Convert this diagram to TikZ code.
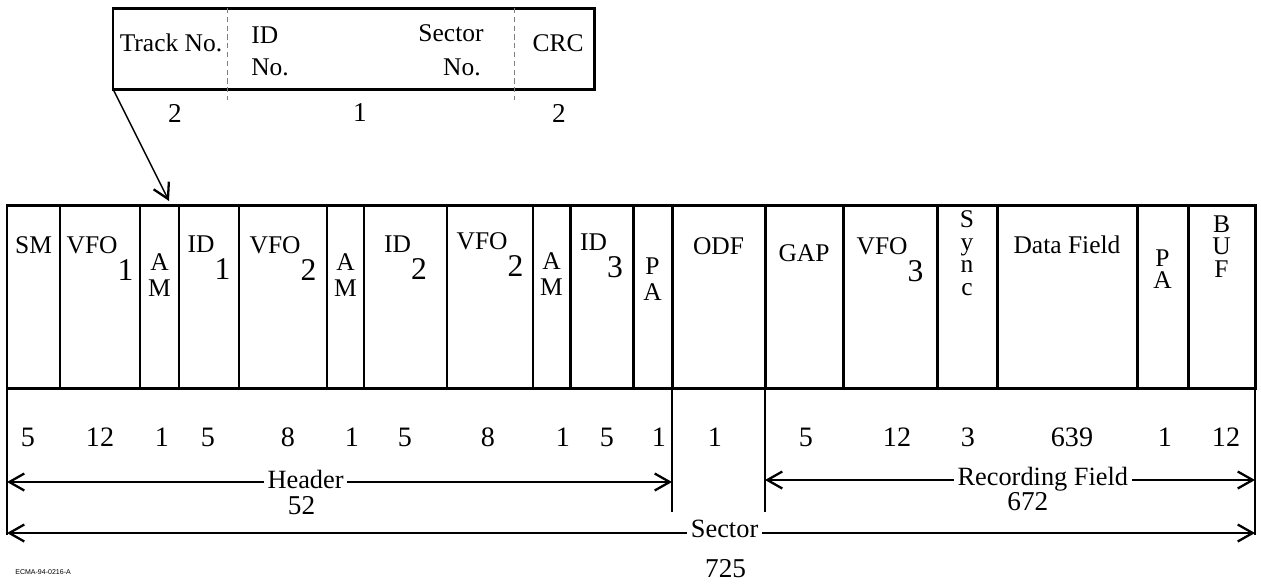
\documentclass[tikz,border=0pt]{standalone}
\usepackage{fontspec}
\setmainfont{Liberation Serif}
\newfontfamily\tagfont{Liberation Sans}
\usetikzlibrary{positioning, arrows.meta, calc, fit}

% big lowered index digit, as in the drawing
\newcommand\sbd[1]{\lower0.54cm\hbox{\fontsize{18}{18}\selectfont #1}}

\begin{document}
\begin{tikzpicture}[x=0.02cm, y=-0.02cm,
  cell/.style={draw, line width=1.7pt, inner sep=0pt, outer sep=0pt},
  lab/.style={anchor=north, inner sep=0pt, align=center, font=\fontsize{14.5}{15}\selectfont},
  num/.style={inner sep=0pt, font=\fontsize{16}{16}\selectfont},
  boxtxt/.style={inner sep=0pt, font=\fontsize{14.5}{15}\selectfont},
  dimtxt/.style={fill=white, inner xsep=2pt, inner ysep=0pt, font=\fontsize{15}{15}\selectfont},
  dimnum/.style={inner sep=0pt, font=\fontsize{15.5}{15.5}\selectfont},
  dimline/.style={line width=0.8pt, {Straight Barb[length=3mm, width=3.4mm, line width=1.3pt]}-{Straight Barb[length=3mm, width=3.4mm, line width=1.3pt]}},
  edge/.style={line width=0.6pt}]
\useasboundingbox (0,0) rectangle (1261,583);

% --- ID field ---
\node[cell, fit={(113,8) (594,89)}] (idbox) {};
\draw[gray, line width=0.4pt, densely dashed] (idbox.north -| 227,0) -- (227,100);
\draw[gray, line width=0.4pt, densely dashed] (idbox.north -| 514,0) -- (514,100);
\node[boxtxt] (trk) at (171,43) {Track No.};
\node[boxtxt, anchor=west] (idw) at (251,35) {ID};
\node[boxtxt, anchor=west] (idn) at (251,67) {No.};
\node[boxtxt] (sec) at (451,33) {Sector};
\node[boxtxt, anchor=east] (secn) at (481,67) {No.};
\node[boxtxt] (crc) at (558,43) {CRC};
\node[dimnum] (trkb) at (175,113) {2};
\node[dimnum] (idb) at (360,113) {1};
\node[dimnum] (crcb) at (559,113) {2};

% --- Sector fields ---
\foreach \nm/\xa/\xb/\ty/\txt/\nv/\nx in {
  sm/7/60/236/SM/5/28,
  vfoa/60/140/236/{VFO\sbd{1}}/12/100,
  ama/140/179/253/{A\\M}/1/162,
  ida/179/239/235/{ID\sbd{1}}/5/208,
  vfob/239/327/236/{VFO\sbd{2}}/8/288,
  amb/327/364/253/{A\\M}/1/352,
  idb/364/447/235/{ID\sbd{2}}/5/405,
  vfoc/447/533/232/{VFO\sbd{2}}/8/488,
  amc/533/570/252/{A\\M}/1/563,
  idc/570/633/233/{ID\sbd{3}}/5/607,
  paa/633/672/257/{P\\A}/1/659,
  odf/672/765/237/ODF/1/715,
  gap/765/843/244/GAP/5/806,
  vfod/843/937/237/{VFO\sbd{3}}/12/897,
  sync/937/997/210/{S\\[-2pt]y\\[-2pt]n\\[-2pt]c}/3/968,
  data/997/1137/235/Data Field/639/1072,
  pab/1137/1188/249/{P\\[-2pt]A}/1/1165,
  buf/1188/1255/215/{B\\[-2pt]U\\[-2pt]F}/12/1226}{
  \node[cell, fit={(\xa,205) (\xb,388)}] (\nm) {};
  \node[lab] (\nm-t) at (\nm.center |- 0,\ty) {\txt};
  \node[num] (\nm-n) at (\nx,437) {\nv};
}

% pointer from ID field
\draw[line width=0.8pt, -{Straight Barb[length=3mm, width=3.4mm, line width=1.3pt]}]
  (idbox.south west) -- ($(ama.north east)+(-10,-4)$);

% --- Lengths ---
\draw[edge] (sm.south west) -- ++(0,147);
\draw[edge] (buf.south east) -- ++(0,147);
\draw[edge] (odf.south west) -- ++(0,124);
\draw[edge] (gap.south west) -- ++(0,124);

\draw[dimline] ($(sm.south west)+(0,94)$) -- node[dimtxt, pos=0.449, yshift=1.2pt] (hdr) {Header} ($(odf.south west)+(0,94)$);
\node[dimnum] (hdrn) at ($(hdr)+(-4,26)$) {52};

\draw[dimline] ($(gap.south west)+(0,92)$) -- node[dimtxt, pos=0.567, yshift=0.6pt] (rec) {Recording Field} ($(buf.south east)+(0,92)$);
\node[dimnum] (recn) at ($(rec)+(-15,23)$) {672};

\draw[dimline] ($(sm.south west)+(0,145)$) -- node[dimtxt, pos=0.575, yshift=2.2pt] (sect) {Sector} ($(buf.south east)+(0,145)$);
\node[dimnum] (sectn) at ($(sect)+(1,39)$) {725};

\node[anchor=west, inner sep=0pt, font=\tagfont\fontsize{4}{4}\selectfont] (tag) at (15,572) {ECMA-94-0216-A};

\end{tikzpicture}
\end{document}
